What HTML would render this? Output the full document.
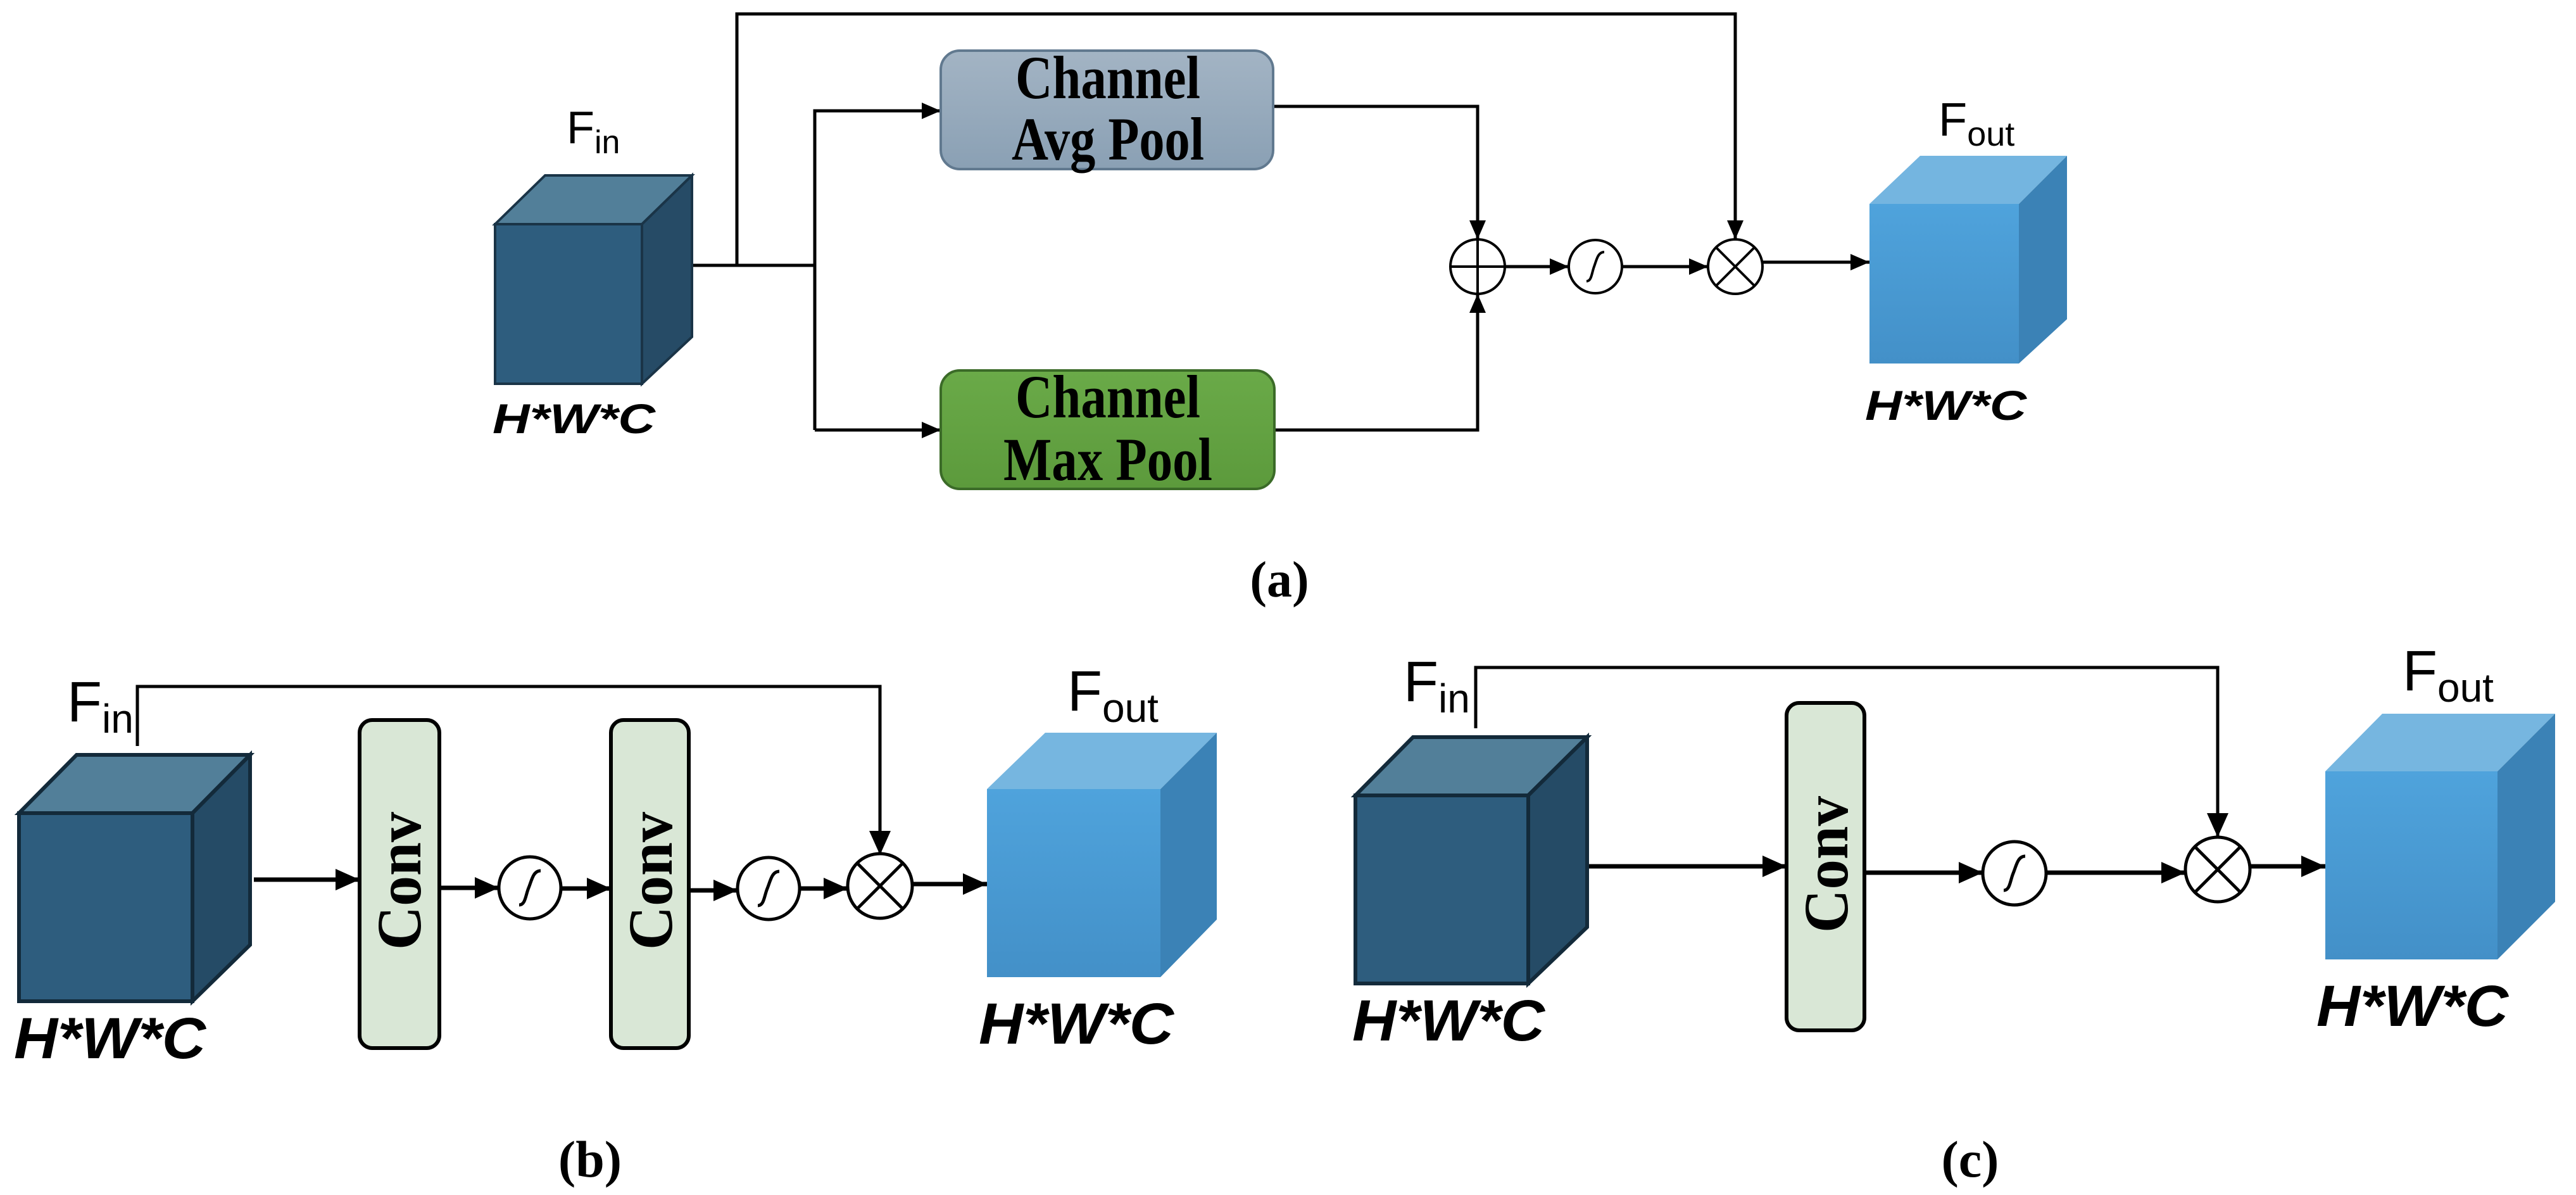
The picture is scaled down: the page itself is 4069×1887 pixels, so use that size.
<!DOCTYPE html>
<html><head><meta charset="utf-8"><style>html,body{margin:0;padding:0;background:#fff}svg{display:block}</style></head><body>
<svg width="4069" height="1887" viewBox="0 0 4069 1887" xmlns="http://www.w3.org/2000/svg">
<defs>
<marker id="ah" markerWidth="30" markerHeight="26" refX="8" refY="4" orient="auto" markerUnits="userSpaceOnUse" viewBox="0 0 8 8" preserveAspectRatio="none"><path d="M0,0 L8,4 L0,8 z" fill="#000"/></marker>
<marker id="ahb" markerWidth="38" markerHeight="34" refX="8" refY="4" orient="auto" markerUnits="userSpaceOnUse" viewBox="0 0 8 8" preserveAspectRatio="none"><path d="M0,0 L8,4 L0,8 z" fill="#000"/></marker>
<linearGradient id="avg" x1="0" y1="0" x2="0" y2="1"><stop offset="0" stop-color="#a3b4c4"/><stop offset="1" stop-color="#8aa0b4"/></linearGradient>
<linearGradient id="mx" x1="0" y1="0" x2="0" y2="1"><stop offset="0" stop-color="#6aaa48"/><stop offset="1" stop-color="#5c9a3c"/></linearGradient>
<linearGradient id="lb" x1="0" y1="0" x2="0" y2="1"><stop offset="0" stop-color="#4fa3dc"/><stop offset="1" stop-color="#4390c8"/></linearGradient>
</defs>
<style>
.ln{stroke:#000;fill:none}
.lbl{font-family:"Liberation Sans",sans-serif;fill:#000}
.hwc{font-family:"Liberation Sans",sans-serif;font-weight:bold;font-style:italic;fill:#000}
.ser{font-family:"Liberation Serif",serif;font-weight:bold;fill:#000}
</style>

<!-- ================= (a) ================= -->
<g class="ln" stroke-width="5">
<polyline points="1090,419 1287,419"/>
<polyline points="1164,419 1164,22 2741,22 2741,378" marker-end="url(#ah)"/>
<polyline points="1287,679 1287,175 1486,175" marker-end="url(#ah)"/>
<polyline points="1287,679 1486,679" marker-end="url(#ah)"/>
<polyline points="2011,168 2334,168 2334,378" marker-end="url(#ah)"/>
<polyline points="2013,679 2334,679 2334,464" marker-end="url(#ah)"/>
<line x1="2377" y1="421" x2="2478" y2="421" marker-end="url(#ah)"/>
<line x1="2562" y1="421" x2="2698" y2="421" marker-end="url(#ah)"/>
<line x1="2784" y1="414" x2="2953" y2="414" marker-end="url(#ah)"/>
</g>
<polygon points="782,354 861,277 1093,277 1014,354" fill="#527f99" stroke="#1a3447" stroke-width="4"/>
<polygon points="1014,354 1093,277 1093,532 1014,606" fill="#264b66" stroke="#1a3447" stroke-width="4"/>
<rect x="782" y="354" width="232" height="252" fill="#2e5d7e" stroke="#1a3447" stroke-width="4"/>
<text class="lbl" x="895" y="226" font-size="72">F<tspan font-size="52" dy="16">in</tspan></text>
<text class="hwc" x="778" y="684" font-size="66" textLength="257" lengthAdjust="spacingAndGlyphs">H*W*C</text>
<rect x="1486" y="80" width="525" height="187" rx="30" fill="url(#avg)" stroke="#61798f" stroke-width="4"/>
<text class="ser" x="1750" y="155" font-size="96" text-anchor="middle" textLength="292" lengthAdjust="spacingAndGlyphs">Channel</text>
<text class="ser" x="1750" y="252" font-size="96" text-anchor="middle" textLength="304" lengthAdjust="spacingAndGlyphs">Avg Pool</text>
<rect x="1486" y="585" width="527" height="187" rx="30" fill="url(#mx)" stroke="#3b6b28" stroke-width="4"/>
<text class="ser" x="1750" y="659" font-size="96" text-anchor="middle" textLength="292" lengthAdjust="spacingAndGlyphs">Channel</text>
<text class="ser" x="1750" y="758" font-size="96" text-anchor="middle" textLength="330" lengthAdjust="spacingAndGlyphs">Max Pool</text>
<g class="ln" stroke-width="4">
<circle cx="2334" cy="421" r="43"/><line x1="2334" y1="378" x2="2334" y2="464"/><line x1="2291" y1="421" x2="2377" y2="421"/>
<circle cx="2520" cy="421" r="42"/><path d="M2506,444 C2514,444 2514,432 2518,421 C2522,410 2524,398 2534,398"/>
<circle cx="2741" cy="421" r="43"/><line x1="2711" y1="391" x2="2771" y2="451"/><line x1="2771" y1="391" x2="2711" y2="451"/>
</g>
<polygon points="2953,322 3033,246 3265,246 3189,322" fill="#74b5e0"/>
<polygon points="3189,322 3265,246 3265,504 3189,574" fill="#3b82b6"/>
<rect x="2953" y="322" width="236" height="252" fill="url(#lb)"/>
<text class="lbl" x="3062" y="214" font-size="74">F<tspan font-size="54" dy="16">out</tspan></text>
<text class="hwc" x="2946" y="663" font-size="66" textLength="255" lengthAdjust="spacingAndGlyphs">H*W*C</text>
<text class="ser" x="2021" y="942" font-size="80" text-anchor="middle">(a)</text>

<!-- ================= (b) ================= -->
<g class="ln" stroke-width="7">
<polyline points="217,1178 217,1084 1390,1084 1390,1350" marker-end="url(#ahb)" stroke-width="5"/>
<line x1="401" y1="1389" x2="568" y2="1389" marker-end="url(#ahb)"/>
<line x1="694" y1="1402" x2="788" y2="1402" marker-end="url(#ahb)"/>
<line x1="886" y1="1403" x2="965" y2="1403" marker-end="url(#ahb)"/>
<line x1="1088" y1="1406" x2="1165" y2="1406" marker-end="url(#ahb)"/>
<line x1="1263" y1="1403" x2="1339" y2="1403" marker-end="url(#ahb)"/>
<line x1="1441" y1="1396" x2="1559" y2="1396" marker-end="url(#ahb)"/>
</g>
<polygon points="30,1284 121,1192 395,1192 304,1284" fill="#527f99" stroke="#132a3a" stroke-width="6"/>
<polygon points="304,1284 395,1192 395,1492 304,1581" fill="#254b66" stroke="#132a3a" stroke-width="6"/>
<rect x="30" y="1284" width="274" height="297" fill="#2e5d7e" stroke="#132a3a" stroke-width="6"/>
<text class="lbl" x="106" y="1139" font-size="90">F<tspan font-size="64" dy="18">in</tspan></text>
<text class="hwc" x="22" y="1671" font-size="92" textLength="303" lengthAdjust="spacingAndGlyphs">H*W*C</text>
<rect x="568" y="1137" width="126" height="518" rx="20" fill="#d9e7d6" stroke="#000" stroke-width="6"/>
<text class="ser" transform="translate(664,1391) rotate(-90)" x="0" y="0" font-size="100" text-anchor="middle" textLength="218" lengthAdjust="spacingAndGlyphs">Conv</text>
<rect x="965" y="1137" width="123" height="518" rx="20" fill="#d9e7d6" stroke="#000" stroke-width="6"/>
<text class="ser" transform="translate(1061,1391) rotate(-90)" x="0" y="0" font-size="100" text-anchor="middle" textLength="218" lengthAdjust="spacingAndGlyphs">Conv</text>
<g class="ln" stroke-width="5">
<circle cx="837" cy="1402" r="49"/><path d="M820,1429 C830,1429 830,1414 835,1402 C840,1390 842,1375 854,1375"/>
<circle cx="1214" cy="1403" r="49"/><path d="M1197,1430 C1207,1430 1207,1415 1212,1403 C1217,1391 1219,1376 1231,1376"/>
<circle cx="1390" cy="1399" r="51"/><line x1="1354" y1="1363" x2="1426" y2="1435"/><line x1="1426" y1="1363" x2="1354" y2="1435"/>
</g>
<polygon points="1559,1246 1651,1157 1922,1157 1833,1246" fill="#76b6e0"/>
<polygon points="1833,1246 1922,1157 1922,1452 1833,1543" fill="#3b82b6"/>
<rect x="1559" y="1246" width="274" height="297" fill="url(#lb)"/>
<text class="lbl" x="1686" y="1122" font-size="90">F<tspan font-size="64" dy="18">out</tspan></text>
<text class="hwc" x="1546" y="1648" font-size="92" textLength="308" lengthAdjust="spacingAndGlyphs">H*W*C</text>
<text class="ser" x="932" y="1858" font-size="82" text-anchor="middle">(b)</text>

<!-- ================= (c) ================= -->
<g class="ln" stroke-width="7">
<polyline points="2331,1150 2331,1054 3503,1054 3503,1322" marker-end="url(#ahb)" stroke-width="5"/>
<line x1="2510" y1="1368" x2="2822" y2="1368" marker-end="url(#ahb)"/>
<line x1="2945" y1="1378" x2="3132" y2="1378" marker-end="url(#ahb)"/>
<line x1="3232" y1="1378" x2="3452" y2="1378" marker-end="url(#ahb)"/>
<line x1="3554" y1="1368" x2="3673" y2="1368" marker-end="url(#ahb)"/>
</g>
<polygon points="2141,1256 2232,1164 2507,1164 2414,1256" fill="#527f99" stroke="#132a3a" stroke-width="6"/>
<polygon points="2414,1256 2507,1164 2507,1464 2414,1553" fill="#254b66" stroke="#132a3a" stroke-width="6"/>
<rect x="2141" y="1256" width="273" height="297" fill="#2e5d7e" stroke="#132a3a" stroke-width="6"/>
<text class="lbl" x="2217" y="1107" font-size="90">F<tspan font-size="64" dy="18">in</tspan></text>
<text class="hwc" x="2136" y="1643" font-size="92" textLength="304" lengthAdjust="spacingAndGlyphs">H*W*C</text>
<rect x="2822" y="1110" width="123" height="517" rx="20" fill="#d9e7d6" stroke="#000" stroke-width="6"/>
<text class="ser" transform="translate(2918,1365) rotate(-90)" x="0" y="0" font-size="100" text-anchor="middle" textLength="216" lengthAdjust="spacingAndGlyphs">Conv</text>
<g class="ln" stroke-width="5">
<circle cx="3182" cy="1379" r="50"/><path d="M3165,1406 C3175,1406 3175,1391 3180,1379 C3185,1367 3187,1352 3199,1352"/>
<circle cx="3503" cy="1373" r="51"/><line x1="3467" y1="1337" x2="3539" y2="1409"/><line x1="3539" y1="1337" x2="3467" y2="1409"/>
</g>
<polygon points="3673,1218 3763,1127 4036,1127 3945,1218" fill="#76b6e0"/>
<polygon points="3945,1218 4036,1127 4036,1424 3945,1515" fill="#3b82b6"/>
<rect x="3673" y="1218" width="272" height="297" fill="url(#lb)"/>
<text class="lbl" x="3795" y="1090" font-size="90">F<tspan font-size="64" dy="18">out</tspan></text>
<text class="hwc" x="3659" y="1620" font-size="92" textLength="303" lengthAdjust="spacingAndGlyphs">H*W*C</text>
<text class="ser" x="3112" y="1858" font-size="82" text-anchor="middle">(c)</text>
</svg>
</body></html>
